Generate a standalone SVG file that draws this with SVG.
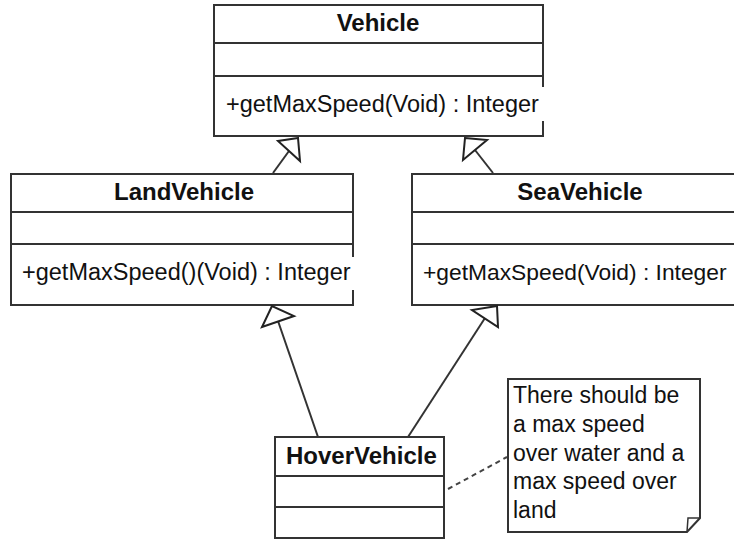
<svg xmlns="http://www.w3.org/2000/svg" width="734" height="539" viewBox="0 0 734 539">
<style>
.box{fill:#fff;stroke:#333;stroke-width:2}
.ln{stroke:#333;stroke-width:2;fill:none}
.t{font-family:"Liberation Sans",Arial,sans-serif;font-size:23.5px;fill:#111}
.b{font-family:"Liberation Sans",Arial,sans-serif;font-size:24px;font-weight:bold;fill:#111}
.n{font-family:"Liberation Sans",Arial,sans-serif;font-size:23px;fill:#111}
.tri{fill:#fff;stroke:#222;stroke-width:2;stroke-linejoin:miter}
.dash{stroke:#444;stroke-width:2;stroke-dasharray:5,4;fill:none}
</style>
<rect width="734" height="539" fill="#fff"/>
<g id="Vehicle">
<rect class="box" x="214" y="5" width="329" height="131"/>
<line class="ln" x1="214" y1="43" x2="543" y2="43"/>
<line class="ln" x1="214" y1="76" x2="543" y2="76"/>
<text class="b" x="378" y="31" text-anchor="middle">Vehicle</text>
<rect x="536" y="87" width="12" height="34" fill="#fff"/>
<text class="t" x="226" y="112">+getMaxSpeed(Void) : Integer</text>
</g>
<g id="LandVehicle">
<rect class="box" x="11" y="174" width="342" height="131"/>
<line class="ln" x1="11" y1="212" x2="353" y2="212"/>
<line class="ln" x1="11" y1="244" x2="353" y2="244"/>
<text class="b" x="184" y="200" text-anchor="middle">LandVehicle</text>
<rect x="346" y="257" width="12" height="33" fill="#fff"/>
<text class="t" x="22" y="280">+getMaxSpeed()(Void) : Integer</text>
</g>
<g id="SeaVehicle">
<rect class="box" x="412" y="174" width="350" height="131"/>
<line class="ln" x1="412" y1="212" x2="762" y2="212"/>
<line class="ln" x1="412" y1="244" x2="762" y2="244"/>
<text class="b" x="580" y="200" text-anchor="middle">SeaVehicle</text>
<text class="t" x="423" y="280" style="font-size:22.8px">+getMaxSpeed(Void) : Integer</text>
</g>
<g id="HoverVehicle">
<rect class="box" x="275" y="437" width="169" height="101"/>
<line class="ln" x1="275" y1="476" x2="444" y2="476"/>
<line class="ln" x1="275" y1="507" x2="444" y2="507"/>
<text class="b" x="286" y="464">HoverVehicle</text>
</g>
<g id="Note">
<path class="box" d="M508,379 H700 V518 L687,532 H508 Z"/>
<path d="M687,532 L688,518 H700" fill="none" stroke="#333" stroke-width="1.5"/>
<text class="n" x="513" y="403">There should be</text>
<text class="n" x="513" y="431.75">a max speed</text>
<text class="n" x="513" y="460.5">over water and a</text>
<text class="n" x="513" y="489.25">max speed over</text>
<text class="n" x="513" y="518">land</text>
</g>
<g id="connectors">
<line class="ln" x1="273" y1="173" x2="289" y2="151"/>
<polygon class="tri" points="298,138 278,141 300,161"/>
<line class="ln" x1="493" y1="173" x2="475" y2="150"/>
<polygon class="tri" points="465,138 487,140 463,160"/>
<line class="ln" x1="318" y1="437" x2="278" y2="321"/>
<polygon class="tri" points="272,306 262,327 294,316"/>
<line class="ln" x1="408" y1="437" x2="485" y2="318"/>
<polygon class="tri" points="497,306 472,310 498,327"/>
<line class="dash" x1="448" y1="489" x2="507" y2="457"/>
</g>
</svg>
